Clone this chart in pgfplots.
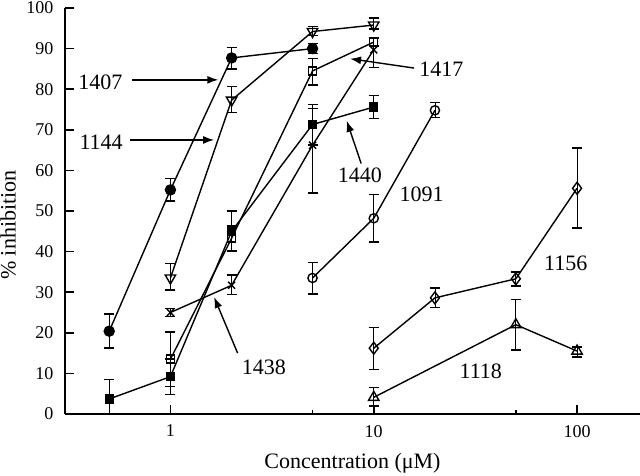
\documentclass[border=0pt]{standalone}
\usepackage{fontspec}
\setmainfont{Liberation Serif}
\usepackage{pgfplots}
\usepackage{pgfplotstable}
\pgfplotsset{compat=1.18}
\usetikzlibrary{arrows.meta}

% x = concentration (uM), y = % inhibition, ep/em = error up/down
\pgfplotstableread{
x   y     ep   em
0.5 20.4  4.2  4.1
1   55.2  2.8  2.7
2   87.7  2.5  2.7
5   90.0  1.2  1.2
}\tA % 1407
\pgfplotstableread{
x   y     ep   em
1   33.5  3.5  3.0
2   77.3  3.4  3.0
5   94.2  1.3  1.0
10  95.8  1.7  1.0
}\tB % 1144
\pgfplotstableread{
x   y     ep   em
1   13.5  6.7  6.7
2   43.3  3.0  3.0
5   84.5  3.0  3.5
10  91.6  1.0  1.0
}\tC % 1417
\pgfplotstableread{
x   y     ep   em
0.5 3.7   4.8  3.7
1   9.2   4.3  4.4
2   45.0  5.0  5.0
5   71.3  4.9  5.0
10  75.6  2.8  2.8
}\tD % 1440
\pgfplotstableread{
x   y     ep   em
1   25.0  1.0  1.0
2   31.7  2.5  2.2
5   66.2  9.0  11.8
10  89.7  3.0  4.3
}\tE % 1438
\pgfplotstableread{
x   y     ep   em
5   33.5  3.8  3.9
10  48.2  5.8  5.8
20  74.8  1.9  1.8
}\tF % 1091
\pgfplotstableread{
x   y     ep   em
10  16.2  5.1  5.2
20  28.6  2.4  2.3
50  33.3  1.7  1.8
100 55.6  9.9  9.8
}\tG % 1156
\pgfplotstableread{
x   y     ep   em
10  4.1   2.4  2.1
50  22.0  6.2  6.2
100 15.5  1.0  1.5
}\tH % 1118

\pgfplotsset{
  eb/.style={
    black, line width=0.7pt,
    error bars/y dir=both, error bars/y explicit,
    error bars/error mark options={black, solid, rotate=90, mark size=2.5pt, line width=0.7pt},
  },
}

\begin{document}
\begin{tikzpicture}
\begin{semilogxaxis}[
  name=main,
  scale only axis, width=287.5pt, height=203pt,
  xmin=0.303, xmax=204, ymin=0, ymax=100,
  axis lines=left, axis line style={-, line width=1pt},
  tick align=inside, major tick length=4.5pt, minor tick length=2.2pt,
  tick style={black, line width=0.8pt},
  xtick={1,10,100}, xticklabels={1,10,100}, minor xtick={5,50},
  ytick={0,10,...,100},
  /pgf/number format/assume math mode=true,
  ticklabel style={font=\fontsize{9}{10}\selectfont},
  xticklabel style={yshift=-2pt},
  yticklabel style={xshift=-2.3pt},
  xlabel={Concentration (μM)},
  ylabel={\% inhibition},
  every axis x label/.style={at={(axis description cs:0.5,0)}, anchor=center, yshift=-24.5pt, font=\fontsize{11}{13}\selectfont},
  every axis y label/.style={at={(axis description cs:-0.099,0.465)}, anchor=center, rotate=90, font=\fontsize{11}{13}\selectfont},
  clip=false,
]
\addplot[eb, mark=*, mark size=2.5pt] table[x=x,y=y,y error plus=ep,y error minus=em]{\tA};
\addplot[eb, mark=triangle, mark size=3pt, mark options={solid, rotate=180, fill=white}] table[x=x,y=y,y error plus=ep,y error minus=em]{\tB};
\addplot[eb, mark=square, mark size=2pt, mark options={solid, fill=white}] table[x=x,y=y,y error plus=ep,y error minus=em]{\tC};
\addplot[eb, mark=square*, mark size=2pt] table[x=x,y=y,y error plus=ep,y error minus=em]{\tD};
\addplot[eb, mark=x, mark size=2.5pt] table[x=x,y=y,y error plus=ep,y error minus=em]{\tE};
\addplot[eb, mark=o, mark size=2.3pt, mark options={solid, fill=white}] table[x=x,y=y,y error plus=ep,y error minus=em]{\tF};
\addplot[eb, mark=diamond, mark size=3pt, mark options={solid, fill=white}] table[x=x,y=y,y error plus=ep,y error minus=em]{\tG};
\addplot[eb, mark=triangle, mark size=3pt, mark options={solid, fill=white}] table[x=x,y=y,y error plus=ep,y error minus=em]{\tH};

% labels and arrows
\begin{scope}[every node/.style={font=\fontsize{11}{13}\selectfont, inner sep=0pt}]
\node at (axis cs:0.452,81.8) {1407};
\node at (axis cs:0.456,67.05) {1144};
\node at (axis cs:21.5,84.95) {1417};
\node at (axis cs:8.55,58.9) {1440};
\node at (axis cs:17.2,54.2) {1091};
\node at (axis cs:2.88,11.4) {1438};
\node at (axis cs:87.9,37.2) {1156};
\node at (axis cs:33.6,10.4) {1118};
\end{scope}
\begin{scope}[line width=0.7pt, -{Latex[length=5.5pt,width=4pt]}]
\draw (axis cs:0.650,82.3) -- (axis cs:1.72,82.3);
\draw (axis cs:0.636,67.5) -- (axis cs:1.64,67.5);
\draw (axis cs:15.8,85.2) -- (axis cs:7.65,87.5);
\draw (axis cs:8.67,61.7) -- (axis cs:7.37,72.2);
\draw (axis cs:2.14,15.0) -- (axis cs:1.64,28.8);
\end{scope}
\end{semilogxaxis}
\pgfresetboundingbox
\path[use as bounding box] ([shift={(-32.5pt,-30.5pt)}]main.south west) rectangle ([shift={(0pt,4pt)}]main.north east);
\end{tikzpicture}
\end{document}
